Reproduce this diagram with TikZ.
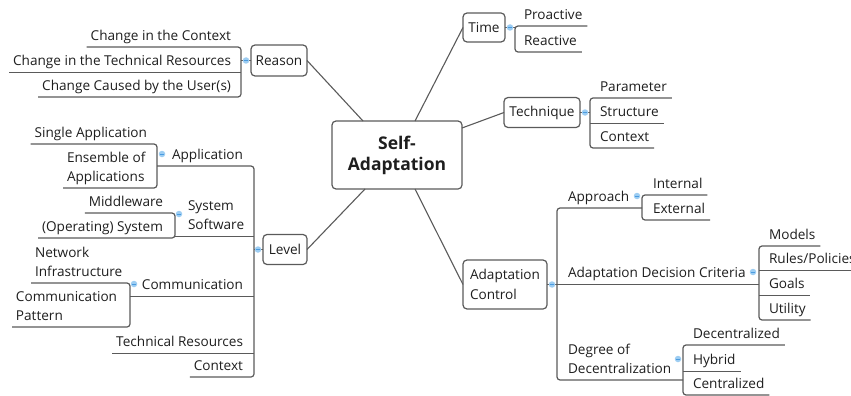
\documentclass[tikz,border=0pt]{standalone}
\usepackage{fontspec}
\setmainfont{Open Sans}
\usetikzlibrary{calc}
\definecolor{ln}{HTML}{5A5A5A}
\definecolor{tx}{HTML}{1E1E1E}
\definecolor{dotf}{HTML}{9DCDF2}
\definecolor{dotl}{HTML}{4A9BE0}
\begin{document}
\begin{tikzpicture}[x=1pt,y=-1pt,
  every node/.style={text=tx, font=\fontsize{13.6}{19.5}\selectfont, inner sep=0pt, outer sep=0pt},
  box/.style={draw=ln, line width=1.2pt, rounded corners=4pt, inner sep=0pt},
  multi/.style={align=left, text depth=3.5pt},
  br/.style={draw=ln, line width=1.2pt, rounded corners=3pt},
  conn/.style={draw=ln, line width=1.1pt},
  dot/.style={circle, fill=dotf, minimum size=6.5pt, inner sep=0pt,
    path picture={\draw[dotl, line width=0.6pt] ([xshift=-1.6pt]path picture bounding box.center) -- ([xshift=1.6pt]path picture bounding box.center);}}
]
\useasboundingbox (0,0) rectangle (851,396);

% main boxes
\node[box, minimum width=130pt, minimum height=68pt, align=center,
  font=\bfseries\fontsize{17.5}{21}\selectfont] (sa) at (397,155) {Self-\\Adaptation};
\node[box, minimum width=42pt, minimum height=29pt] (time) at (484,27.5) {Time};
\node[box, minimum width=76pt, minimum height=30pt] (tech) at (542,112.5) {Technique};
\node[box, minimum width=56pt, minimum height=31pt] (reason) at (279,60.5) {Reason};
\node[box, minimum width=44pt, minimum height=30pt] (level) at (285,249.5) {Level};
\node[box, minimum width=84pt, minimum height=49pt, align=left] (ac) at (505,284.5) {Adaptation\\Control};

% connectors from centre
\draw[conn] ([xshift=31pt]sa.north west) -- (reason.east);
\draw[conn] ([xshift=83pt]sa.north west) -- (time.west);
\draw[conn] ([yshift=-7pt]sa.north east) -- (tech.west);
\draw[conn] ([xshift=33pt]sa.south west) -- (level.east);
\draw[conn] ([xshift=83pt]sa.south west) -- (ac.west);

% Time
\draw[conn] (time.east) -- (515,27.5);
\node[anchor=base west] (pro) at (524,19.5) {Proactive};
\node[anchor=base west] (rea) at (524,45.5) {Reactive};
\draw[br] ($(pro.base east)+(5,6.5)$) -- (515,26) -- (515,52) -- ($(rea.base east)+(5,6.5)$);
\node[dot] (dtime) at (510,27.5) {};

% Technique
\draw[conn] (tech.east) -- (590,112.5);
\node[anchor=base west] (par) at (600,91.5) {Parameter};
\node[anchor=base west] (str) at (600,116.5) {Structure};
\node[anchor=base west] (tctx) at (600,141.5) {Context};
\draw[br] ($(par.base east)+(5,6.5)$) -- (590,98) -- (590,148) -- ($(tctx.base east)+(5,6.5)$);
\draw[conn] (590,123.5) -- ($(str.base east)+(5,7)$);
\node[dot] (dtech) at (585,112.5) {};

% Reason
\draw[conn] (reason.west) -- (241,60.5);
\node[anchor=base east] (r1) at (231,40.5) {Change in the Context};
\node[anchor=base east] (r2) at (231,65.5) {Change in the Technical Resources};
\node[anchor=base east] (r3) at (231,90.5) {Change Caused by the User(s)};
\draw[br] ($(r1.base west)+(-4,6.5)$) -- (241,47) -- (241,97) -- ($(r3.base west)+(-4,6.5)$);
\draw[conn] ($(r2.base west)+(-4,7)$) -- (241,72.5);
\node[dot] (dreason) at (246,60.5) {};

% Level
\draw[conn] (level.west) -- (254,249.5);
\node[anchor=base east] (app) at (243,159.5) {Application};
\node[anchor=base east] (single) at (147,137.5) {Single Application};
\node[multi, anchor=south west] (ens) at (67,185) {Ensemble of\\Applications};
\draw[br] ($(single.base west)+(-4,6.5)$) -- (157,144) -- (157,188) -- ($(ens.south west)+(-4,3)$);
\node[dot] (dapp) at (162,154) {};

\node[multi, anchor=south west] (sys) at (188,233) {System\\Software};
\node[anchor=base east] (mw) at (163,206.5) {Middleware};
\node[anchor=base east] (os) at (163,231.5) {(Operating) System};
\draw[br] ($(mw.base west)+(-4,6.5)$) -- (175,213) -- (175,238) -- ($(os.base west)+(-4,6.5)$);
\node[dot] (dsys) at (179,214) {};

\node[anchor=base east] (comm) at (243,289.5) {Communication};
\node[multi, anchor=south west] (net) at (35,280) {Network\\Infrastructure};
\node[multi, anchor=south west] (cp) at (16,324) {Communication\\Pattern};
\draw[br] ($(net.south west)+(-4,3)$) -- (130,283) -- (130,327) -- ($(cp.south west)+(-4,3)$);
\node[dot] (dcomm) at (134,284) {};

\node[anchor=base east] (tres) at (243,346.5) {Technical Resources};
\node[anchor=base east] (lctx) at (243,370.5) {Context};

\draw[br] (157,166) -- (254,166) -- (254,377) -- ($(lctx.base west)+(-4,6.5)$);
\draw[conn] (175,236.5) -- (254,236.5);
\draw[conn] (130,296.5) -- (254,296.5);
\draw[conn] ($(tres.base west)+(-4,7)$) -- (254,353.5);
\node[dot] (dlevel) at (258,249.5) {};

% Adaptation Control
\draw[conn] (ac.east) -- (759,284.5);
\node[anchor=base west] (appr) at (568,201.5) {Approach};
\node[anchor=base west] (adc) at (568,277.5) {Adaptation Decision Criteria};
\node[multi, anchor=south west] (deg) at (568,377) {Degree of\\Decentralization};
\draw[br] (642,208) -- (557,208) -- (557,380) -- (683,380);
\node[dot] (dac) at (552,284.5) {};

\node[anchor=base west] (int) at (653,188.5) {Internal};
\node[anchor=base west] (ext) at (653,213.5) {External};
\draw[br] ($(int.base east)+(5,6.5)$) -- (642,195) -- (642,220) -- ($(ext.base east)+(5,6.5)$);
\node[dot] (dappr) at (637,196) {};

\node[anchor=base west] (mod) at (769,239.5) {Models};
\node[anchor=base west] (rul) at (769,263.5) {Rules/Policies};
\node[anchor=base west] (goal) at (769,288.5) {Goals};
\node[anchor=base west] (util) at (769,313.5) {Utility};
\draw[br] ($(mod.base east)+(5,6.5)$) -- (759,246) -- (759,320) -- ($(util.base east)+(5,6.5)$);
\draw[conn] (759,270.5) -- ($(rul.base east)+(5,7)$);
\draw[conn] (759,295.5) -- ($(goal.base east)+(5,7)$);
\node[dot] (dadc) at (753,272) {};

\node[anchor=base west] (dec) at (693,338.5) {Decentralized};
\node[anchor=base west] (hyb) at (693,364.5) {Hybrid};
\node[anchor=base west] (cen) at (693,388.5) {Centralized};
\draw[br] ($(dec.base east)+(5,6.5)$) -- (683,345) -- (683,395) -- ($(cen.base east)+(5,6.5)$);
\draw[conn] (683,371.5) -- ($(hyb.base east)+(5,7)$);
\node[dot] (ddeg) at (678,359) {};
\end{tikzpicture}
\end{document}
